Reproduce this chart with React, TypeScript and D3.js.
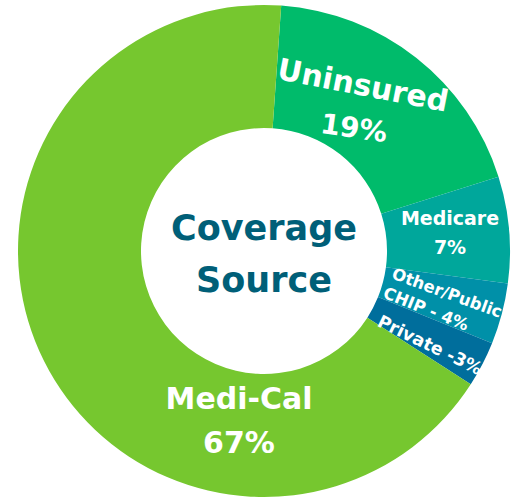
import * as d3 from "d3";
import { useEffect, useRef } from "react";

// coverage source shares (%)
const categories = ["Uninsured", "Medicare", "Other/Public CHIP", "Private", "Medi-Cal"];
const shares = [19, 7, 4, 3, 67];
const colors = ["#00BB6B", "#00A79B", "#0090A8", "#006E9C", "#76C72F"];
const centerTitle = ["Coverage", "Source"];

// label text lines, placed relative to the donut centre
const labelLines = [
  { text: "Uninsured", dx: 99, dy: -166, rot: 11, size: 30 },
  { text: "19%", dx: 90, dy: -123, rot: 8, size: 28 },
  { text: "Medicare", dx: 186, dy: -33, rot: 0, size: 19 },
  { text: "7%", dx: 186, dy: -4, rot: 0, size: 19 },
  { text: "Other/Public", dx: 183, dy: 42, rot: 20, size: 16.5 },
  { text: "CHIP - 4%", dx: 162, dy: 58, rot: 22, size: 16.5 },
  { text: "Private -3%", dx: 166, dy: 94, rot: 26, size: 17.5 },
  { text: "Medi-Cal", dx: -25, dy: 147, rot: 0, size: 30 },
  { text: "67%", dx: -25, dy: 191, rot: 0, size: 30 },
];

const App = () => {
  const ref = useRef<SVGSVGElement>(null);

  useEffect(() => {
    const svg = d3.select(ref.current);
    svg.selectAll("*").remove();

    const width = 518,
      height = 501;
    const cx = 264,
      cy = 251;
    const outerR = 246,
      innerR = 123;
    const offset = 0.07; // chart is turned a little clockwise

    const g = svg.append("g").attr("transform", `translate(${cx},${cy})`);

    const pie = d3
      .pie<number>()
      .sort(null)
      .value((d) => d)
      .startAngle(offset)
      .endAngle(offset + Math.PI * 2);

    const arc = d3.arc<d3.PieArcDatum<number>>().innerRadius(innerR).outerRadius(outerR);

    g.selectAll(".slice")
      .data(pie(shares))
      .enter()
      .append("path")
      .attr("class", "slice")
      .attr("d", arc)
      .attr("fill", (_, i) => colors[i])
      .append("title")
      .text((d, i) => `${categories[i]}: ${d.data}%`);

    g.selectAll(".lbl")
      .data(labelLines)
      .enter()
      .append("text")
      .attr("class", "lbl")
      .attr("transform", (d) => `translate(${d.dx},${d.dy}) rotate(${d.rot})`)
      .attr("text-anchor", "middle")
      .attr("dominant-baseline", "central")
      .attr("fill", "#fff")
      .style("font-family", "'DejaVu Sans', sans-serif")
      .style("font-weight", "bold")
      .style("font-size", (d) => `${d.size}px`)
      .text((d) => d.text);

    g.selectAll(".title")
      .data(centerTitle)
      .enter()
      .append("text")
      .attr("class", "title")
      .attr("x", 0)
      .attr("y", (_, i) => (i === 0 ? -23 : 29))
      .attr("text-anchor", "middle")
      .attr("dominant-baseline", "central")
      .attr("fill", "#005F78")
      .style("font-family", "'DejaVu Sans', sans-serif")
      .style("font-weight", "bold")
      .style("font-size", "35px")
      .text((d) => d);

    svg.attr("width", width).attr("height", height);
  }, []);

  return (
    <div style={{ position: "absolute", left: 0, top: 0 }}>
      <svg ref={ref} />
    </div>
  );
};

export default App;
